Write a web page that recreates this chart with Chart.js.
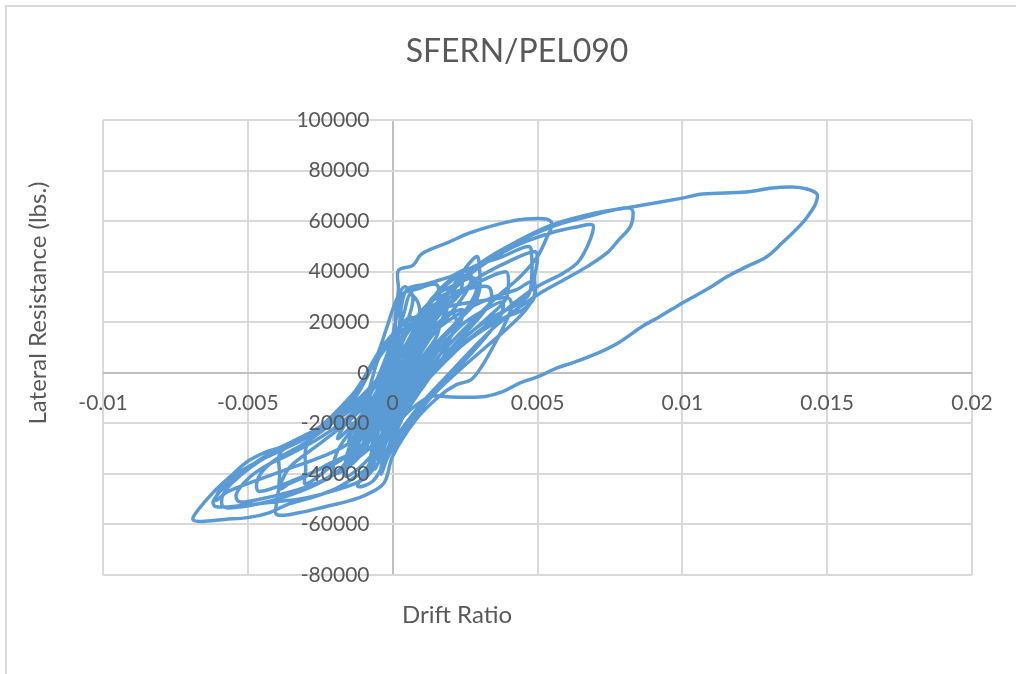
<!DOCTYPE html>
<html>
<head>
<meta charset="utf-8">
<title>SFERN/PEL090</title>
<script src="https://cdn.jsdelivr.net/npm/chart.js@4.4.1/dist/chart.umd.min.js"></script>
<style>
  html, body { margin: 0; padding: 0; background: #fff; }
  #frame {
    position: absolute; left: 5px; top: 5px; width: 1011px; height: 669px;
    border-left: 2px solid #d9d9d9; border-top: 2px solid #d9d9d9;
  }
  #chart { position: absolute; left: 0; top: 0; }
</style>
</head>
<body>
<div id="frame"></div>
<canvas id="chart" width="1016" height="674"></canvas>
<script>
// drift ratio / lateral resistance (lbs.) pairs, one array per group of cycles
const warmUp = [
  [0, 0], [0.0004, 9000], [0.0008, 16000], [0.0011, 19000], [0.0009, 14000], [0.0003, 4000],
  [-0.0003, -6000], [-0.0008, -15000], [-0.0011, -20000], [-0.0009, -15000], [-0.0003, -4000],
  [0.0003, 7000], [0.0009, 16000], [0.0015, 24000], [0.0019, 28000], [0.0018, 23000], [0.0012, 12000],
  [0.0005, 0], [-0.0003, -12000], [-0.0010, -22000], [-0.0015, -28000], [-0.0014, -23000],
  [-0.0008, -12000], [-0.0002, -2000],
];

const firstYield = [
  [0.0001, 10000], [0.0001, 22000], [0.0002, 33000], [0.0002, 40500], [0.0007, 42500], [0.0010, 47000],
  [0.0019, 51500], [0.0027, 55500], [0.0039, 59500], [0.0046, 60800], [0.0053, 60800], [0.0055, 59000],
  [0.0053, 53000], [0.0050, 46000], [0.0044, 38000], [0.0036, 30000], [0.0027, 20000], [0.0017, 8000],
  [0.0008, -4000], [0.0001, -14000], [-0.0006, -24000], [-0.0013, -31000], [-0.0022, -36000],
  [-0.0030, -41000], [-0.0036, -44000], [-0.0039, -46000], [-0.0039, -40000], [-0.0039, -32000],
  [-0.0034, -28000], [-0.0026, -23000], [-0.0016, -16000], [-0.0008, -8000],
];

const secondCycle = [
  [0.0000, 2000], [0.0008, 14000], [0.0016, 24000], [0.0024, 32000], [0.0030, 38000], [0.0040, 44000],
  [0.0049, 48000], [0.0050, 45000], [0.0049, 38000], [0.0049, 30000], [0.0045, 25000], [0.0039, 22000],
  [0.0030, 16000], [0.0020, 7000], [0.0011, -3000], [0.0003, -13000], [-0.0004, -22000], [-0.0011, -30000],
  [-0.0020, -36000], [-0.0030, -44000], [-0.0030, -38000], [-0.0030, -30000], [-0.0027, -24000],
  [-0.0018, -17000], [-0.0008, -6000],
];

const thirdCycle = [
  [0.0001, 6000], [0.0009, 18000], [0.0018, 30000], [0.0029, 41000], [0.0042, 50000], [0.0055, 55500],
  [0.0064, 57800], [0.0069, 58500], [0.0069, 55500], [0.0067, 49500], [0.0064, 43800], [0.0059, 39500],
  [0.0053, 36000], [0.0048, 32800], [0.0043, 28500], [0.0036, 22000], [0.0026, 13000], [0.0016, 2000],
  [0.0008, -8000], [0.0001, -19000], [-0.0006, -28000], [-0.0016, -37000], [-0.0026, -44000],
  [-0.0037, -49000], [-0.0047, -52000], [-0.0057, -53500], [-0.0059, -52000], [-0.0058, -47000],
  [-0.0053, -41000], [-0.0046, -35000], [-0.0038, -30000], [-0.0029, -25000], [-0.0020, -16000],
  [-0.0012, -6000], [-0.0006, 4000],
];

const fourthCycle = [
  [0.0000, 13000], [0.0009, 22000], [0.0019, 31000], [0.0030, 42000], [0.0042, 51000], [0.0055, 57800],
  [0.0068, 62000], [0.0077, 64600], [0.0082, 65200], [0.0083, 63000], [0.0082, 57700], [0.0078, 52500],
  [0.0074, 47400], [0.0067, 41900], [0.0059, 36700], [0.0051, 31600], [0.0044, 26100], [0.0036, 19000],
  [0.0028, 10000], [0.0019, -1000], [0.0010, -12000], [0.0002, -24000], [-0.0004, -34000],
  [-0.0010, -42000], [-0.0020, -46500], [-0.0030, -49500], [-0.0040, -51000], [-0.0052, -52500],
  [-0.0061, -53000], [-0.0062, -51000], [-0.0058, -45000], [-0.0051, -38500], [-0.0044, -33000],
  [-0.0035, -28000], [-0.0024, -21000], [-0.0013, -12000], [-0.0004, -3000],
];

const peakCycle = [
  [0.0003, 7000], [0.0010, 20000], [0.0020, 33000], [0.0031, 44000], [0.0043, 52000], [0.0055, 58500],
  [0.0070, 63200], [0.0082, 65500], [0.0100, 69100], [0.0107, 70700], [0.0122, 71500], [0.0131, 73100],
  [0.0138, 73500], [0.0143, 72700], [0.01465, 70700], [0.01462, 67500], [0.01448, 64400],
  [0.01414, 59200], [0.01345, 51400], [0.0129, 45800], [0.0122, 41900], [0.01152, 37900],
  [0.0110, 34000], [0.0105, 30800], [0.0100, 27600], [0.0092, 22100], [0.0086, 18200], [0.0078, 11900],
  [0.0071, 7900], [0.0063, 4300], [0.0057, 2000], [0.0050, -1600], [0.0044, -4000], [0.0038, -7500],
  [0.0032, -9400], [0.0025, -9700], [0.0019, -9500], [0.0014, -9200], [0.0009, -12000],
  [0.0004, -17000], [0.0000, -23000], [-0.0004, -31000], [-0.0008, -37000], [-0.0014, -42000],
  [-0.0020, -46000], [-0.0028, -49400], [-0.0036, -52000], [-0.0043, -55500], [-0.0050, -57300],
  [-0.0058, -58000], [-0.0066, -58800], [-0.0069, -58000], [-0.0067, -54000], [-0.0062, -47400],
  [-0.0056, -41000], [-0.0050, -35000], [-0.0043, -31000], [-0.0039, -29600], [-0.0032, -25700],
  [-0.0025, -21300], [-0.0017, -13000], [-0.0011, -4000], [-0.0006, 6000], [-0.0001, 14000],
];

const reversalCycle = [
  [0.0006, 21000], [0.0015, 25000], [0.0025, 27500], [0.0034, 29000], [0.0040, 29500], [0.0041, 26000],
  [0.0039, 20000], [0.0035, 11000], [0.0031, 3000], [0.0027, -2800], [0.0022, -4700], [0.0016, -9400],
  [0.0008, -18600], [0.0000, -33000], [-0.0003, -43600], [-0.0009, -48200], [-0.0016, -51000],
  [-0.0023, -52900], [-0.0032, -55300], [-0.0040, -56100], [-0.0040, -51000], [-0.0039, -45000],
  [-0.0036, -38000], [-0.0031, -33000], [-0.0024, -27000], [-0.0015, -19000], [-0.0007, -10000],
  [0.0001, 0],
];

const lateCycles = [
  [0.0008, 12000], [0.0017, 21000], [0.0024, 25000], [0.0023, 19000], [0.0016, 9000], [0.0008, -2000],
  [0.0000, -14000], [-0.0008, -26000], [-0.0016, -33000], [-0.0025, -38000], [-0.0033, -42000],
  [-0.0046, -47000], [-0.0047, -44000], [-0.0045, -39000], [-0.0040, -34000], [-0.0032, -29000],
  [-0.0022, -21000], [-0.0012, -11000], [-0.0003, 0],
  [0.0005, 12000], [0.0010, 22000], [0.0014, 30000], [0.0022, 35000], [0.0028, 37500], [0.0029, 33000],
  [0.0026, 26000], [0.0020, 17000], [0.0012, 6000], [0.0004, -6000], [-0.0003, -18000],
  [-0.0009, -28000], [-0.0014, -34000], [-0.0014, -28000], [-0.0010, -18000], [-0.0004, -6000],
  [0.0003, 8000], [0.0011, 20000], [0.0020, 30000], [0.0030, 36000], [0.0039, 40000], [0.0040, 36000],
  [0.0039, 29000], [0.0033, 22000], [0.0024, 13000], [0.0014, 2000], [0.0005, -10000],
  [-0.0002, -21000], [-0.0006, -30000], [-0.0006, -38000], [-0.0003, -28000], [0.0001, -16000],
];

const aftershockCycles = [
  [0.0004, 6000], [0.0012, 20000], [0.0018, 27000], [0.0017, 21000], [0.0010, 10000], [0.0002, -4000],
  [-0.0006, -17000], [-0.0014, -27000], [-0.0024, -33000], [-0.0036, -38000], [-0.0048, -43000],
  [-0.0057, -47000], [-0.0061, -50500], [-0.0060, -47000], [-0.0055, -41000], [-0.0048, -36000],
  [-0.0040, -31500], [-0.0031, -26500], [-0.0021, -19500], [-0.0013, -9000], [-0.0008, 2000],
  [-0.0002, 12000], [0.0006, 18000], [0.0009, 12000], [0.0002, -3000], [-0.0005, -16000],
  [-0.0012, -28000], [-0.0018, -38000], [-0.0025, -43000], [-0.0035, -47000], [-0.0046, -50000],
  [-0.0053, -51000], [-0.0054, -48000], [-0.0050, -42000], [-0.0044, -37000], [-0.0036, -32500],
  [-0.0027, -27000], [-0.0018, -20000], [-0.0009, -10000],
  [-0.0003, 4000], [0.0000, 15000], [0.0002, 26000], [0.0003, 31000], [0.0008, 33000], [0.0015, 35000],
  [0.0016, 30000], [0.0014, 23000], [0.0009, 13000], [0.0003, 2000], [-0.0003, -10000],
  [-0.0008, -22000], [-0.0012, -32000], [-0.0011, -25000], [-0.0006, -14000], [-0.0001, -3000],
  [0.0002, 14000], [0.0003, 26000], [0.0005, 33000], [0.0011, 35000], [0.0020, 38000], [0.0026, 41000],
  [0.0027, 36000], [0.0023, 28000], [0.0016, 18000], [0.0008, 6000], [0.0001, -8000], [-0.0005, -20000],
  [-0.0010, -30000], [-0.0016, -36000], [-0.0015, -30000], [-0.0010, -20000], [-0.0004, -8000],
];

const tailCycles = [
  [0.0001, 6000], [0.0006, 18000], [0.0012, 27000], [0.0018, 31000], [0.0025, 33000], [0.0033, 34000],
  [0.0034, 29000], [0.0030, 22000], [0.0022, 12000], [0.0013, 0], [0.0005, -12000], [-0.0002, -24000],
  [-0.0006, -34000], [-0.0009, -41000], [-0.0007, -34000], [-0.0003, -22000], [0.0001, -12000],
  [0.0004, -2000],
  [0.0009, 10000], [0.0015, 17000], [0.0021, 22000], [0.0027, 26000], [0.0035, 30000], [0.0043, 33000],
  [0.0048, 36000], [0.0049, 31000], [0.0046, 25000], [0.0040, 18000], [0.0032, 10000], [0.0023, 1000],
  [0.0013, -10000], [0.0005, -22000], [-0.0001, -32000], [-0.0004, -39000], [-0.0002, -31000],
  [0.0002, -20000], [0.0006, -9000],
  [0.0011, 2000], [0.0018, 12000], [0.0025, 20000], [0.0032, 25000], [0.0038, 28000], [0.0037, 22000],
  [0.0032, 14000], [0.0025, 5000], [0.0017, -5000], [0.0009, -15000], [0.0002, -25000],
  [-0.0003, -36000], [-0.0007, -43000], [-0.0012, -45000], [-0.0010, -40000], [-0.0005, -30000],
  [0.0000, -18000], [0.0004, -6000],
  [0.0008, 16000], [0.0013, 28000], [0.0019, 36000], [0.0028, 42000], [0.0038, 46000], [0.0047, 50000],
  [0.0048, 46000], [0.0048, 38000], [0.0047, 31000], [0.0043, 27000], [0.0036, 23000], [0.0028, 17000],
  [0.0019, 7000], [0.0010, -5000], [0.0003, -17000], [-0.0004, -28000], [-0.0010, -36000],
  [-0.0016, -41000], [-0.0016, -36000], [-0.0013, -28000], [-0.0007, -16000], [-0.0001, -4000],
];

const decayCycles = [
  [0.0005, 2000], [0.0010, 12000], [0.0016, 25000], [0.0023, 38000], [0.0029, 46000], [0.0030, 41000],
  [0.0030, 33000], [0.0028, 27000], [0.0022, 20000], [0.0013, 9000], [0.0005, -4000], [-0.0002, -16000],
  [-0.0008, -27000], [-0.0013, -35000], [-0.0020, -40000], [-0.0020, -34000], [-0.0017, -27000],
  [-0.0010, -17000], [-0.0003, -5000],
  [0.0004, 10000], [0.0010, 22000], [0.0017, 33000], [0.0024, 39000], [0.0024, 35000], [0.0023, 31000],
  [0.0017, 24000], [0.0009, 12000], [0.0002, -2000], [-0.0004, -14000], [-0.0009, -24000],
  [-0.0008, -30000], [-0.0005, -22000], [0.0000, -10000], [0.0005, 3000], [0.0011, 14000],
  [0.0016, 20000], [0.0015, 14000], [0.0008, 3000], [0.0001, -9000], [-0.0004, -20000],
  [-0.0006, -26000], [-0.0004, -18000], [0.0000, -6000], [0.0004, 5000], [0.0006, 10000],
  [0.0003, 2000], [0.0000, -3000],
];

const residualCycles = [
  [-0.0009, -14000], [-0.0007, -2000], [-0.0004, 8000], [0.0001, 16000], [0.0006, 22000],
  [0.0008, 18000], [0.0005, 8000], [0.0001, -2000], [-0.0004, -12000], [-0.0008, -20000],
  [-0.0012, -26000], [-0.0010, -14000], [-0.0006, -4000], [0.0000, 8000], [0.0006, 17000],
  [0.0012, 26000], [0.0014, 22000], [0.0011, 12000], [0.0006, 2000], [0.0000, -9000],
  [-0.0006, -20000], [-0.0011, -30000], [-0.0016, -34000], [-0.0013, -24000], [-0.0009, -12000],
  [-0.0005, -2000], [0.0000, 10000], [0.0004, 24000], [0.0006, 31000], [0.0009, 27000],
  [0.0009, 18000], [0.0006, 6000], [0.0002, -6000], [-0.0003, -18000], [-0.0007, -30000],
  [-0.0008, -38000], [-0.0006, -28000], [-0.0003, -16000], [0.0002, -4000], [0.0008, 8000],
  [0.0014, 16000], [0.0020, 24000], [0.0022, 20000], [0.0018, 10000], [0.0012, 0], [0.0006, -12000],
  [0.0001, -24000], [-0.0002, -34000], [-0.0004, -40000], [-0.0003, -30000], [0.0001, -18000],
  [0.0005, -8000], [0.0011, 4000], [0.0017, 14000], [0.0019, 10000], [0.0015, 2000], [0.0009, -8000],
  [0.0003, -18000], [-0.0002, -26000], [-0.0008, -24000], [-0.0014, -20000], [-0.0020, -22000],
  [-0.0014, -12000], [-0.0009, -2000], [-0.0005, 8000], [-0.0002, 18000], [0.0001, 28000],
  [0.0004, 34000], [0.0007, 30000], [0.0005, 20000], [0.0001, 8000], [-0.0004, -4000],
  [-0.0009, -14000], [-0.0015, -22000], [-0.0019, -26000], [-0.0015, -18000], [-0.0008, -8000],
  [-0.0002, 2000], [0.0002, 8000], [0.0001, 0], [-0.0002, -6000],
];

const xLimits = { min: -0.01, max: 0.02, step: 0.005 };
const yLimits = { min: -80000, max: 100000, step: 20000 };

const history = [
  ...warmUp, ...firstYield, ...secondCycle, ...thirdCycle, ...fourthCycle, ...peakCycle,
  ...reversalCycle, ...lateCycles, ...aftershockCycles, ...tailCycles, ...decayCycles,
  ...residualCycles,
].map(([x, y]) => ({ x, y }));

const TEXT = '#595959';
const GRID = '#d9d9d9';
const tickFont = { family: 'Lato', size: 21 };

// chart and axis titles, placed like the spreadsheet layout
const chartTitles = {
  id: 'chartTitles',
  afterDraw(chart) {
    const { ctx } = chart;
    ctx.save();
    ctx.fillStyle = TEXT;
    ctx.textAlign = 'center';
    ctx.textBaseline = 'middle';
    ctx.font = '32px Lato';
    ctx.fillText('SFERN/PEL090', 517, 52);
    ctx.font = '24px Lato';
    ctx.fillText('Drift Ratio', 457, 615);
    ctx.translate(38, 303);
    ctx.rotate(-Math.PI / 2);
    ctx.fillText('Lateral Resistance (lbs.)', 0, 0);
    ctx.restore();
  },
};

const gridColor = (ctx) => (ctx.tick && ctx.tick.value === 0 ? '#bfbfbf' : GRID);

new Chart(document.getElementById('chart'), {
  type: 'scatter',
  data: {
    datasets: [{
      label: 'SFERN/PEL090',
      data: history,
      showLine: true,
      borderColor: '#5b9bd5',
      borderWidth: 3.5,
      pointRadius: 0,
      tension: 0.35,
      fill: false,
    }],
  },
  options: {
    responsive: false,
    animation: false,
    devicePixelRatio: 1,
    layout: { padding: { left: 103, top: 120, right: 44, bottom: 99 } },
    plugins: {
      legend: { display: false },
      title: { display: false },
      tooltip: { enabled: false },
    },
    scales: {
      x: {
        type: 'linear',
        position: { y: 0 },
        min: xLimits.min,
        max: xLimits.max,
        ticks: {
          stepSize: xLimits.step,
          color: TEXT,
          font: tickFont,
          padding: 18,
          z: 1,
          callback: (v) => String(Number(v.toFixed(4))),
        },
        grid: { color: gridColor, lineWidth: 2, drawTicks: false },
        border: { display: false },
      },
      y: {
        type: 'linear',
        // labels sit a little left of the zero line, as in the spreadsheet
        position: { x: -0.0008 },
        min: yLimits.min,
        max: yLimits.max,
        ticks: {
          stepSize: yLimits.step,
          color: TEXT,
          font: tickFont,
          z: 1,
          callback: (v) => String(v),
        },
        grid: { color: gridColor, lineWidth: 2, drawTicks: false },
        border: { display: false },
      },
    },
  },
  plugins: [chartTitles],
});
</script>
</body>
</html>
